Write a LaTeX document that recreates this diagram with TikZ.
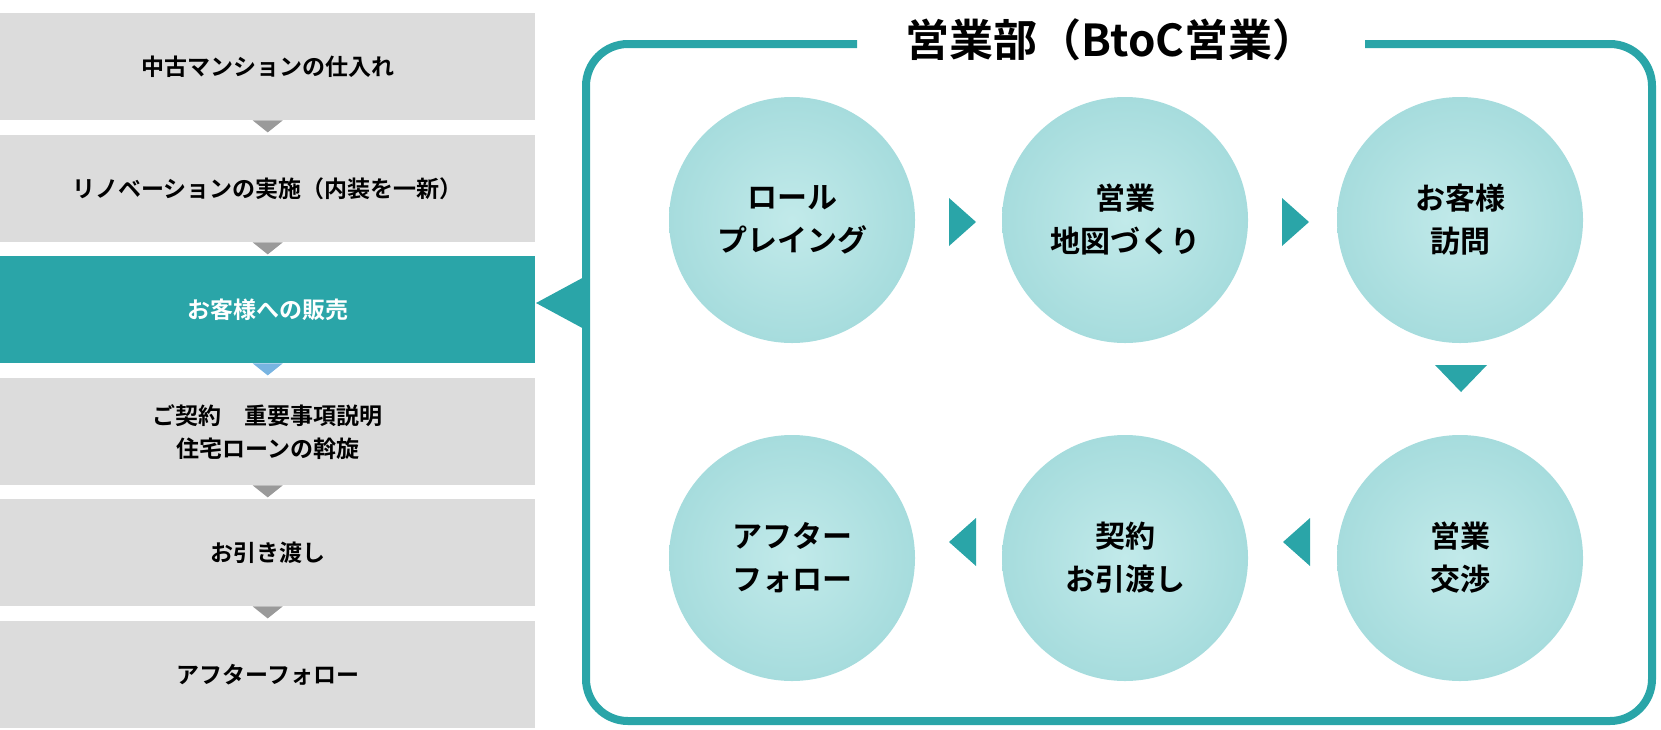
\documentclass[tikz,border=0pt]{standalone}
\usepackage{fontspec}
\setmainfont{Noto Sans CJK JP}[BoldFont={* Bold}]
\definecolor{teal1}{HTML}{2AA5A8}
\definecolor{gray1}{HTML}{DCDCDC}
\definecolor{gray2}{HTML}{9A9A9A}
\definecolor{cin}{HTML}{C2EAEA}
\definecolor{cout}{HTML}{A6DCDD}
\begin{document}
\begin{tikzpicture}[x=1pt,y=-1pt,
  lbox/.style={fill=gray1,draw=none,minimum width=535pt,minimum height=107pt,anchor=north west,inner sep=0pt,font=\fontsize{23}{33}\selectfont\bfseries,align=center},
  circ/.style={circle,minimum size=246pt,inner sep=0pt,shading=radial,inner color=cin,outer color=cout,font=\fontsize{30}{43}\selectfont\bfseries,align=center},
  tri/.style={fill=teal1}]
\useasboundingbox (0,0) rectangle (1661,729);
\node[lbox] (b1) at (0,13) {中古マンションの仕入れ};
\node[lbox] (b2) at (0,135) {リノベーションの実施（内装を一新）};
\node[lbox,fill=teal1,text=white] (b3) at (0,256) {お客様への販売};
\node[lbox] (b4) at (0,378) {ご契約　重要事項説明\\住宅ローンの斡旋};
\node[lbox] (b5) at (0,499) {お引き渡し};
\node[lbox] (b6) at (0,621) {アフターフォロー};
\foreach \a/\c in {b1/gray2,b2/gray2,b4/gray2,b5/gray2}
  \fill[\c] ([xshift=-15pt]\a.south) -- ([xshift=15pt]\a.south) -- ([yshift=-12pt]\a.south) -- cycle;
\fill[color={rgb,255:red,120;green,180;blue,225}] ([xshift=-15pt]b3.south) -- ([xshift=15pt]b3.south) -- ([yshift=-12pt]b3.south) -- cycle;
% frame
\draw[teal1,line width=8pt,rounded corners=42pt] (857,44) -- (586,44) -- (586,721) -- (1652,721) -- (1652,44) -- (1365,44);
\node[font=\fontsize{44}{52}\selectfont\bfseries] (title) at (1111,40) {営業部（BtoC営業）};
\fill[teal1] (536,303) -- (586,276) -- (586,330) -- cycle;
% circles
\node[circ] (c1) at (792,220) {ロール\\プレイング};
\node[circ] (c2) at (1125,220) {営業\\地図づくり};
\node[circ] (c3) at (1460,220) {お客様\\訪問};
\node[circ] (c4) at (1460,558) {営業\\交渉};
\node[circ] (c5) at (1125,558) {契約\\お引渡し};
\node[circ] (c6) at (792,558) {アフター\\フォロー};
\fill[teal1] (949,198) -- (976,222) -- (949,246) -- cycle;
\fill[teal1] (1282,198) -- (1309,222) -- (1282,246) -- cycle;
\fill[teal1] (1435,365) -- (1487,365) -- (1461,392) -- cycle;
\fill[teal1] (1310,518) -- (1283,542) -- (1310,566) -- cycle;
\fill[teal1] (976,518) -- (949,542) -- (976,566) -- cycle;
\end{tikzpicture}
\end{document}
